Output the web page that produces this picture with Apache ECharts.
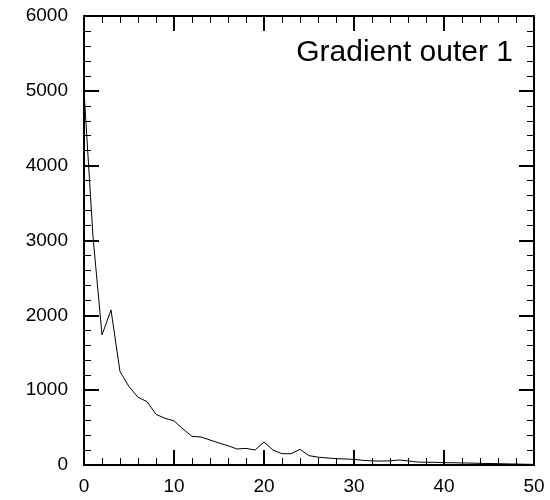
<!DOCTYPE html>
<html>
<head>
<meta charset="utf-8">
<script src="https://cdn.jsdelivr.net/npm/echarts@6/dist/echarts.min.js"></script>
<style>
  html, body { margin: 0; padding: 0; background: #fff; }
  #chart { width: 550px; height: 500px; }
</style>
</head>
<body>
<div id="chart"></div>
<script>
// values
var xs = [0, 1, 2, 3, 4, 5, 6, 7, 8, 9,
          10, 11, 12, 13, 14, 15, 16, 17, 18, 19,
          20, 21, 22, 23, 24, 25, 26, 27, 28, 29,
          30, 31, 32, 33, 34, 35, 36, 37, 38, 39,
          40, 41, 42, 43, 44, 45, 46, 47, 48, 49, 50];
var ys = [5000, 3050, 1738, 2072, 1248, 1047, 905, 847, 677, 624,
          590, 481, 383, 374, 334, 294, 258, 214, 222, 200,
          307, 200, 151, 151, 209, 125, 105, 94, 85, 80,
          75, 62, 55, 53, 55, 67, 55, 40, 36, 36,
          31, 30, 28, 25, 22, 20, 18, 15, 13, 10, 8];
var title = 'Gradient outer 1';

var font = "'Liberation Sans', Arial, Helvetica, sans-serif";
var points = xs.map(function (x, i) { return [x, ys[i]]; });

function makeAxis(pos, max, interval, showLabel) {
  return {
    type: 'value',
    position: pos,
    min: 0,
    max: max,
    interval: interval,
    axisLine: { show: true, onZero: false, lineStyle: { color: '#000', width: 2 } },
    axisTick: { show: true, inside: true, length: 15, lineStyle: { color: '#000', width: 2 } },
    minorTick: { show: true, splitNumber: 5, length: 7, lineStyle: { color: '#000', width: 1 } },
    splitLine: { show: false },
    axisLabel: {
      show: showLabel,
      color: '#000',
      fontSize: 19,
      fontFamily: font,
      margin: pos === 'left' ? 16 : 12,
      formatter: function (v) { return String(v); }
    }
  };
}

var chart = echarts.init(document.getElementById('chart'));
chart.setOption({
  animation: false,
  backgroundColor: '#fff',
  title: {
    text: title,
    right: 32,
    top: 33,
    textStyle: { color: '#000', fontSize: 30, fontWeight: 'normal', fontFamily: font }
  },
  grid: { left: 84, right: 16, top: 16, bottom: 35 },
  xAxis: [makeAxis('bottom', 50, 10, true), makeAxis('top', 50, 10, false)],
  yAxis: [makeAxis('left', 6000, 1000, true), makeAxis('right', 6000, 1000, false)],
  series: [{
    type: 'line',
    data: points,
    showSymbol: false,
    lineStyle: { color: '#000', width: 1 }
  }]
});
</script>
</body>
</html>
